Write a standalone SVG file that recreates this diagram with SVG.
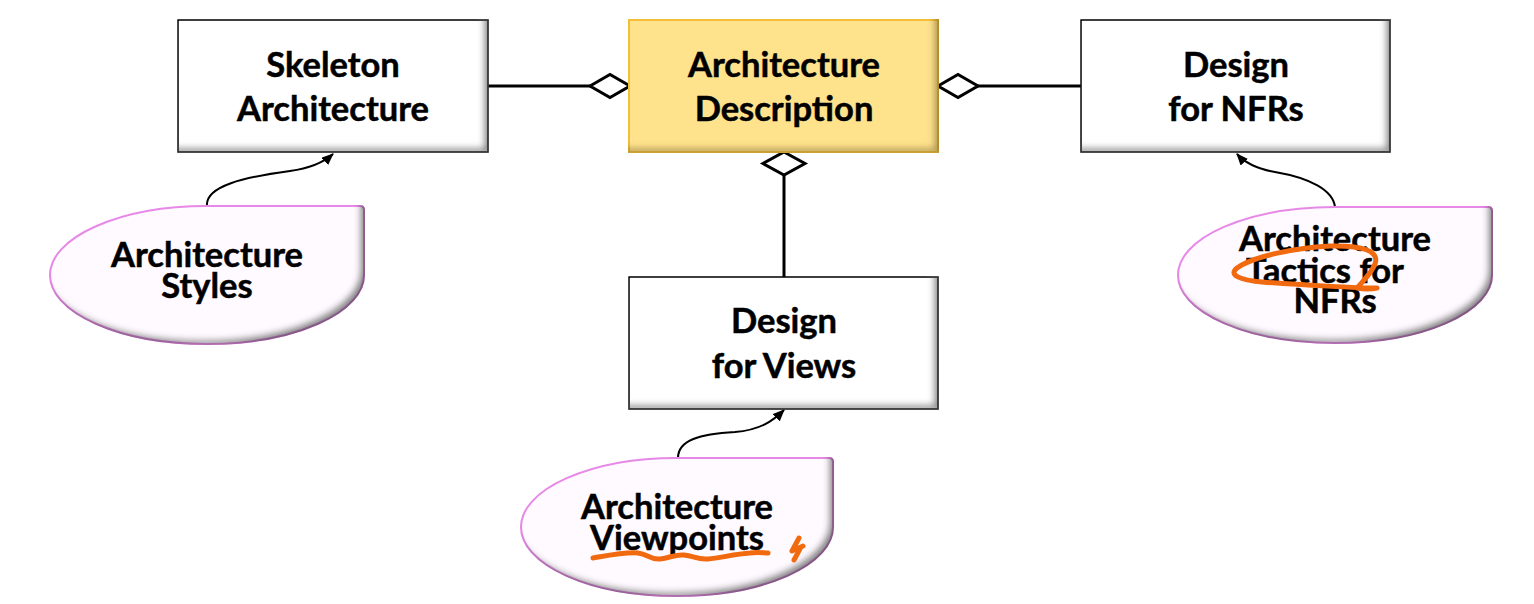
<svg xmlns="http://www.w3.org/2000/svg" width="1534" height="604" viewBox="0 0 1534 604">
<style>
.t{font-family:Lato,"Open Sans","DejaVu Sans",sans-serif;font-weight:bold;font-size:34.5px;fill:#000;stroke:#000;stroke-width:0.5;text-anchor:middle}
.box{fill:#fff;stroke:#000;stroke-width:1.5}
.ybox{fill:#FFE28C;stroke:#F5C03A;stroke-width:2}
.call{fill:#FFFAFF;stroke:#E88AE8;stroke-width:2}
.ln{fill:none;stroke:#000;stroke-width:3}
.dia{fill:#fff;stroke:#000;stroke-width:3}
.cur{fill:none;stroke:#000;stroke-width:2}
.ink{fill:none;stroke:#F26A10;stroke-width:5;stroke-linecap:round;stroke-linejoin:round}
</style>
<defs>
<filter id="inner" x="-5%" y="-5%" width="110%" height="110%">
<feComponentTransfer in="SourceAlpha" result="inv"><feFuncA type="table" tableValues="1 0"/></feComponentTransfer>
<feOffset in="inv" dx="-5" dy="-5" result="off"/>
<feGaussianBlur in="off" stdDeviation="3" result="blur"/>
<feFlood flood-color="#444" flood-opacity="0.8" result="col"/>
<feComposite in="col" in2="blur" operator="in" result="sh"/>
<feComposite in="sh" in2="SourceAlpha" operator="in" result="ish"/>
<feMerge><feMergeNode in="SourceGraphic"/><feMergeNode in="ish"/></feMerge>
</filter>
<filter id="innerY" x="-5%" y="-5%" width="110%" height="110%">
<feComponentTransfer in="SourceAlpha" result="inv"><feFuncA type="table" tableValues="1 0"/></feComponentTransfer>
<feOffset in="inv" dx="-5" dy="-5" result="off"/>
<feGaussianBlur in="off" stdDeviation="3" result="blur"/>
<feFlood flood-color="#7a6420" flood-opacity="0.7" result="col"/>
<feComposite in="col" in2="blur" operator="in" result="sh"/>
<feComposite in="sh" in2="SourceAlpha" operator="in" result="ish"/>
<feMerge><feMergeNode in="SourceGraphic"/><feMergeNode in="ish"/></feMerge>
</filter>
<marker id="arr" viewBox="0 0 12 10" refX="11" refY="5" markerWidth="12" markerHeight="10" markerUnits="userSpaceOnUse" orient="auto">
<path d="M0,0 L12,5 L0,10 Z" fill="#000"/>
</marker>
</defs>

<g id="connectors">
<line class="ln" x1="488" y1="86" x2="590" y2="86"/>
<path class="dia" d="M590,86 L610,74.5 L630,86 L610,97.5 Z"/>
<line class="ln" x1="978" y1="86" x2="1081" y2="86"/>
<path class="dia" d="M938,86 L958,74.5 L978,86 L958,97.5 Z"/>
<line class="ln" x1="784" y1="175" x2="784" y2="277"/>
<path class="dia" d="M784,152 L805,163.5 L784,175 L763,163.5 Z"/>
<path class="cur" marker-end="url(#arr)" d="M207,206 C205,186 245,177 290,171 C312,168 324,162 333,154"/>
<path class="cur" marker-end="url(#arr)" d="M1335,207 C1333,190 1310,178 1275,172 C1258,169 1245,163 1237,154"/>
<path class="cur" marker-end="url(#arr)" d="M678,458 C678,440 700,434 735,432 C760,430 773,421 784,410"/>
</g>

<g id="skeleton">
<rect class="box" x="178" y="20" width="310" height="132" filter="url(#inner)"/>
<text class="t" x="333" y="77">Skeleton</text>
<text class="t" x="333" y="121">Architecture</text>
</g>

<g id="archdesc">
<rect class="ybox" x="629" y="20" width="309" height="132" filter="url(#innerY)"/>
<text class="t" x="784" y="77">Architecture</text>
<text class="t" x="784" y="121">Description</text>
</g>

<g id="nfrs">
<rect class="box" x="1081" y="20" width="309" height="132" filter="url(#inner)"/>
<text class="t" x="1236" y="77">Design</text>
<text class="t" x="1236" y="121">for NFRs</text>
</g>

<g id="views">
<rect class="box" x="629" y="277" width="309" height="132" filter="url(#inner)"/>
<text class="t" x="784" y="333">Design</text>
<text class="t" x="784" y="378">for Views</text>
</g>

<g id="styles">
<path class="call" filter="url(#inner)" d="M207,206 L360,206 Q364,206 364,210 L364,275 A157,69 0 0 1 207,344 A157,69 0 0 1 50,275 A157,69 0 0 1 207,206 Z"/>
<text class="t" x="207" y="267">Architecture</text>
<text class="t" x="207" y="298">Styles</text>
</g>

<g id="tactics">
<path class="call" filter="url(#inner)" d="M1335,207 L1488,207 Q1492,207 1492,211 L1492,275 A157,68 0 0 1 1335,343 A157,68 0 0 1 1178,275 A157,68 0 0 1 1335,207 Z"/>
<text class="t" x="1335" y="251">Architecture</text>
<text class="t" x="1325" y="283">Tactics for</text>
<text class="t" x="1335" y="313">NFRs</text>
</g>

<g id="viewpoints">
<path class="call" filter="url(#inner)" d="M677,458 L829,458 Q833,458 833,462 L833,527 A156,69 0 0 1 677,596 A156,69 0 0 1 521,527 A156,69 0 0 1 677,458 Z"/>
<text class="t" x="677" y="519">Architecture</text>
<text class="t" x="677" y="550">Viewpoints</text>
</g>

<g id="annotations">
<path class="ink" d="M1377,288 C1360,288 1300,285 1262,282 C1240,280 1228,275 1237,268 C1252,257 1292,248 1330,246 C1362,245 1380,251 1375,264 C1371,274 1362,282 1357,288 C1363,289 1372,289 1377,288"/>
<path class="ink" d="M593,558 C605,556 625,552 638,553 C648,554 650,560 660,559 C670,558 675,554 684,555 C694,556 698,560 708,559 C720,558 735,554 750,553 C758,552 764,553 768,553"/>
<path class="ink" d="M799,538 L792,551 L803,546 M801,547 L794,560"/>
</g>
</svg>
